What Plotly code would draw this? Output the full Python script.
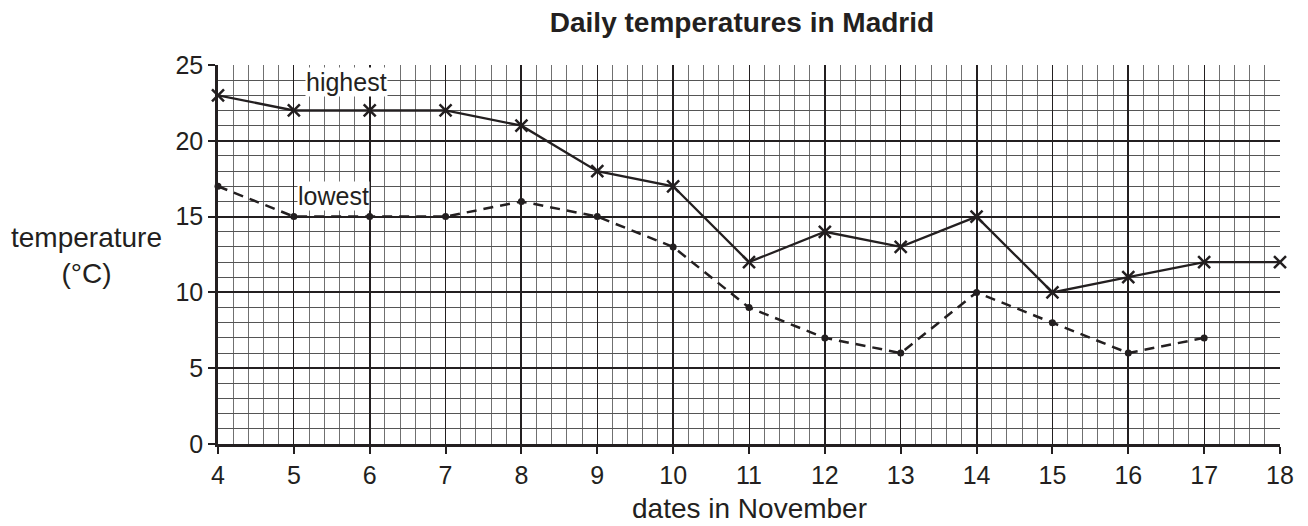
import plotly.graph_objects as go

dates = [4, 5, 6, 7, 8, 9, 10, 11, 12, 13, 14, 15, 16, 17, 18]
highest = [23, 22, 22, 22, 21, 18, 17, 12, 14, 13, 15, 10, 11, 12, 12]
lowest_dates = [4, 5, 6, 7, 8, 9, 10, 11, 12, 13, 14, 15, 16, 17]
lowest = [17, 15, 15, 15, 16, 15, 13, 9, 7, 6, 10, 8, 6, 7]

FONT = "Liberation Sans, Arial, sans-serif"
INK = "#231f20"

fig = go.Figure()
fig.add_trace(go.Scatter(
    x=dates, y=highest, mode="lines+markers",
    line=dict(color=INK, width=2.3),
    marker=dict(symbol="x-thin", size=12, line=dict(color=INK, width=2.5)),
    cliponaxis=False, showlegend=False))
fig.add_trace(go.Scatter(
    x=lowest_dates, y=lowest, mode="lines+markers",
    line=dict(color=INK, width=2.5, dash="10px,7px"),
    marker=dict(symbol="circle", size=7, color=INK),
    cliponaxis=False, showlegend=False))
# invisible trace to activate the overlay axis carrying the heavier grid lines
fig.add_trace(go.Scatter(x=[dates[0]], y=[highest[0]], xaxis="x2", mode="markers",
                         marker=dict(opacity=0), hoverinfo="skip", showlegend=False))

# labels
fig.add_annotation(x=5.69, y=23.9, text="highest", showarrow=False,
                   font=dict(family=FONT, size=25, color=INK),
                   bgcolor="white", borderpad=0)
fig.add_annotation(x=5.52, y=16.35, text="lowest", showarrow=False,
                   font=dict(family=FONT, size=25, color=INK),
                   bgcolor="white", borderpad=0)

fig.add_annotation(xref="paper", yref="paper", x=-0.1234, y=0.498,
                   text="temperature<br>(°C)", showarrow=False,
                   font=dict(family=FONT, size=28, color=INK),
                   xanchor="center", yanchor="middle")
fig.add_annotation(xref="paper", yref="paper", x=0.5, y=-0.169,
                   text="dates in November", showarrow=False,
                   font=dict(family=FONT, size=28, color=INK),
                   xanchor="center", yanchor="middle")

fig.update_layout(
    width=1300, height=518,
    margin=dict(l=210, r=28, t=57, b=82),
    paper_bgcolor="white", plot_bgcolor="white",
    title=dict(text="<b>Daily temperatures in Madrid</b>", x=0.5646, xanchor="center",
               y=1 - 14 / 518, yanchor="middle",
               font=dict(family=FONT, size=28, color=INK)),
    font=dict(family=FONT, size=25, color=INK),
    xaxis=dict(
        range=[4, 18], tick0=4, dtick=1,
        showgrid=True, gridcolor=INK, gridwidth=1.3,
        minor=dict(dtick=0.2, tick0=4, showgrid=True, gridcolor="#707070", gridwidth=1),
        showline=True, linecolor=INK, linewidth=2.5,
        ticks="outside", ticklen=7, tickwidth=2, tickcolor=INK,
        zeroline=False,
        tickfont=dict(family=FONT, size=25, color=INK),
    ),
    xaxis2=dict(overlaying="x", range=[4, 18], tick0=4, dtick=2,
                showgrid=True, gridcolor=INK, gridwidth=2.2,
                showticklabels=False, ticks="", showline=False, zeroline=False),
    yaxis=dict(
        range=[0, 25], tick0=0, dtick=5,
        showgrid=True, gridcolor=INK, gridwidth=1.8,
        minor=dict(dtick=1, tick0=0, showgrid=True, gridcolor="#555555", gridwidth=1),
        showline=True, linecolor=INK, linewidth=2.5,
        ticks="outside", ticklen=7, tickwidth=2, tickcolor=INK,
        zeroline=False,
        tickfont=dict(family=FONT, size=25, color=INK),
    ),
)

fig.write_html("out.html")
